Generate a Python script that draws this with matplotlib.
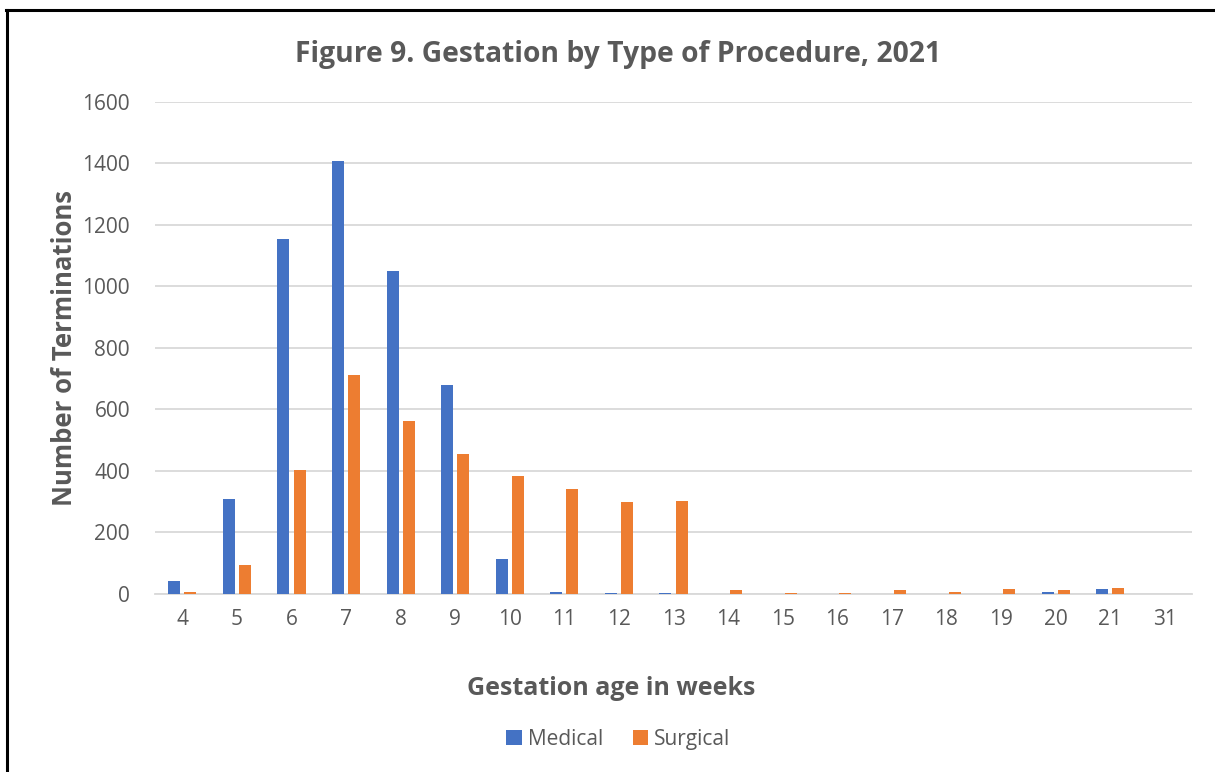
import numpy as np
import matplotlib
matplotlib.use('Agg')
from matplotlib import pyplot as plt
from matplotlib.lines import Line2D

plt.rcParams['font.family'] = ['Open Sans', 'DejaVu Sans']

# data #####################################################################
weeks = ['4', '5', '6', '7', '8', '9', '10', '11', '12', '13', '14',
         '15', '16', '17', '18', '19', '20', '21', '31']
medical = [41, 308, 1153, 1408, 1051, 680, 114, 7, 3, 3, 1,
           1, 1, 1, 1, 1, 5, 16, 1]
surgical = [5, 93, 403, 711, 564, 454, 384, 340, 300, 302, 12,
            4, 4, 13, 8, 15, 14, 19, 0]

blue = '#4472C4'
orange = '#ED7D31'
grey_txt = '#595959'
grid_col = '#D9D9D9'
############################################################################

fig = plt.figure(figsize=(12.15, 7.72), dpi=100)
ax = fig.add_axes([0.1276, 0.2306, 0.8535, 0.6373])

x = np.arange(len(weeks))
w = 0.22
off = 0.148
ax.bar(x - off, medical, width=w, color=blue, label='Medical', zorder=3)
ax.bar(x + off, surgical, width=w, color=orange, label='Surgical', zorder=3)

ax.set_xlim(-0.5, len(weeks) - 0.5)
ax.set_ylim(0, 1600)
ax.set_yticks(np.arange(0, 1601, 200))
ax.set_xticks(x)
ax.set_xticklabels(weeks)
ax.yaxis.grid(True, color=grid_col, linewidth=1.3, zorder=0)
ax.tick_params(axis='both', length=0, labelsize=15, colors=grey_txt)
ax.tick_params(axis='x', pad=11)
ax.tick_params(axis='y', pad=18)
for s in ['top', 'right', 'left']:
    ax.spines[s].set_visible(False)
ax.spines['bottom'].set_color(grid_col)
ax.spines['bottom'].set_linewidth(1.3)

### titles and labels
fig.text(0.509, 0.930, 'Figure 9. Gestation by Type of Procedure, 2021',
         ha='center', va='center', fontsize=20.3, fontweight='bold', color=grey_txt)
ax.set_ylabel('Number of Terminations', fontsize=18.5, fontweight='bold',
              color=grey_txt, labelpad=3)
fig.text(0.503, 0.108, 'Gestation age in weeks', ha='center', va='center',
         fontsize=18, fontweight='bold', color=grey_txt)

leg = fig.legend(loc='center', bbox_to_anchor=(0.509, 0.042), ncol=2,
                 frameon=False, fontsize=15, handlelength=0.75, handleheight=0.75,
                 handletextpad=0.3, columnspacing=1.4, labelcolor=grey_txt)

### frame lines (left and top edge of the chart box)
fig.add_artist(Line2D([7/1215, 7/1215], [0, 1 - 10/772], transform=fig.transFigure,
                      color='black', linewidth=2.2))
fig.add_artist(Line2D([6/1215, 1], [1 - 10/772, 1 - 10/772], transform=fig.transFigure,
                      color='black', linewidth=2.2))

fig.savefig('out.png', dpi=100)
plt.close()
